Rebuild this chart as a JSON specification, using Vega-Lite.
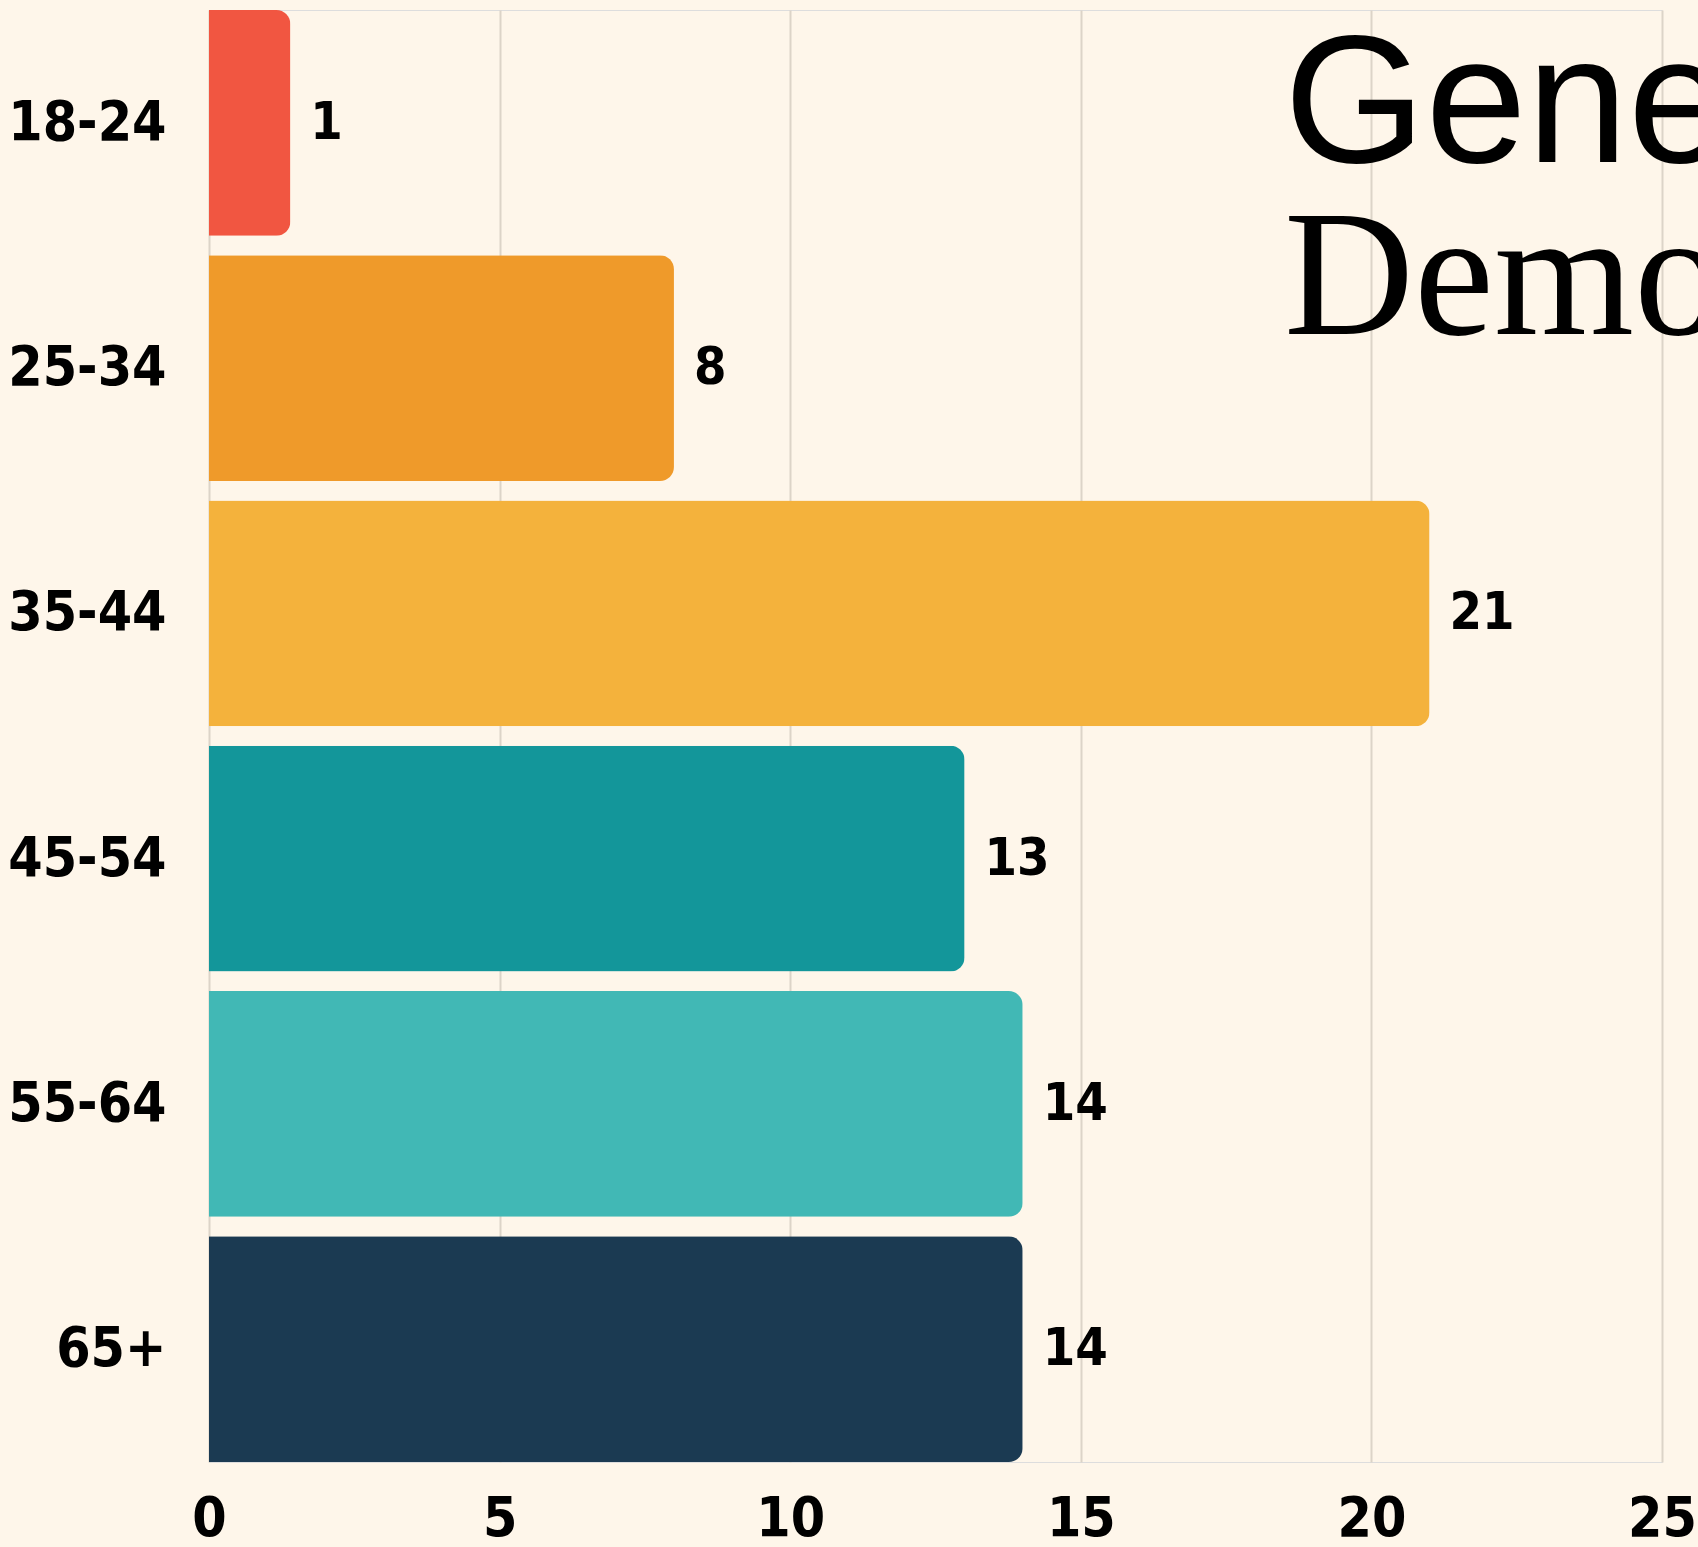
{
  "$schema": "https://vega.github.io/schema/vega-lite/v6.json",
  "autosize": "none",
  "width": 1453,
  "height": 1452,
  "padding": {"left": 209, "top": 10, "right": 36, "bottom": 85},
  "background": "#FEF6EA",
  "title": {
    "text": "General",
    "subtitle": "Demographics",
    "anchor": "start",
    "frame": "group",
    "orient": "top",
    "offset": -362,
    "dx": 1075,
    "font": "Liberation Sans",
    "fontSize": 182,
    "fontWeight": "normal",
    "color": "#000000",
    "subtitleFont": "Liberation Serif",
    "subtitleFontSize": 180,
    "subtitleColor": "#000000",
    "subtitlePadding": -8
  },
  "data": {
    "values": [
      {"age": "18-24", "value": 1.4},
      {"age": "25-34", "value": 8},
      {"age": "35-44", "value": 21},
      {"age": "45-54", "value": 13},
      {"age": "55-64", "value": 14},
      {"age": "65+", "value": 14}
    ]
  },
  "encoding": {
    "y": {
      "field": "age",
      "type": "nominal",
      "sort": ["18-24", "25-34", "35-44", "45-54", "55-64", "65+"],
      "scale": {"paddingInner": 0.08, "paddingOuter": 0},
      "axis": {
        "title": null,
        "domain": false,
        "ticks": false,
        "labelFont": "Liberation Sans Narrow, DejaVu Sans Condensed, sans-serif",
        "labelFontSize": 55,
        "labelFontWeight": "bold",
        "labelColor": "#000000",
        "labelPadding": 43
      }
    },
    "x": {
      "field": "value",
      "type": "quantitative",
      "scale": {"domain": [0, 25], "nice": false},
      "axis": {
        "title": null,
        "values": [0, 5, 10, 15, 20, 25],
        "grid": true,
        "gridColor": "#DCD4C8",
        "gridWidth": 2,
        "domain": false,
        "ticks": false,
        "labelFlush": false,
        "labelOverlap": false,
        "labelFont": "Liberation Sans Narrow, DejaVu Sans Condensed, sans-serif",
        "labelFontSize": 55,
        "labelFontWeight": "bold",
        "labelColor": "#000000",
        "labelPadding": 30
      }
    }
  },
  "layer": [
    {
      "mark": {"type": "bar", "cornerRadiusEnd": 14},
      "encoding": {
        "color": {
          "field": "age",
          "type": "nominal",
          "sort": ["18-24", "25-34", "35-44", "45-54", "55-64", "65+"],
          "scale": {"range": ["#F15641", "#EF9A2A", "#F4B23C", "#13969A", "#41B8B5", "#1B3A52"]},
          "legend": null
        }
      }
    },
    {
      "mark": {
        "type": "text",
        "align": "left",
        "baseline": "middle",
        "dx": 20,
        "font": "Liberation Sans Narrow, DejaVu Sans Condensed, sans-serif",
        "fontSize": 52,
        "fontWeight": "bold",
        "color": "#000000"
      },
      "encoding": {
        "text": {"field": "value", "type": "quantitative", "format": ".0f"}
      }
    }
  ]
}
